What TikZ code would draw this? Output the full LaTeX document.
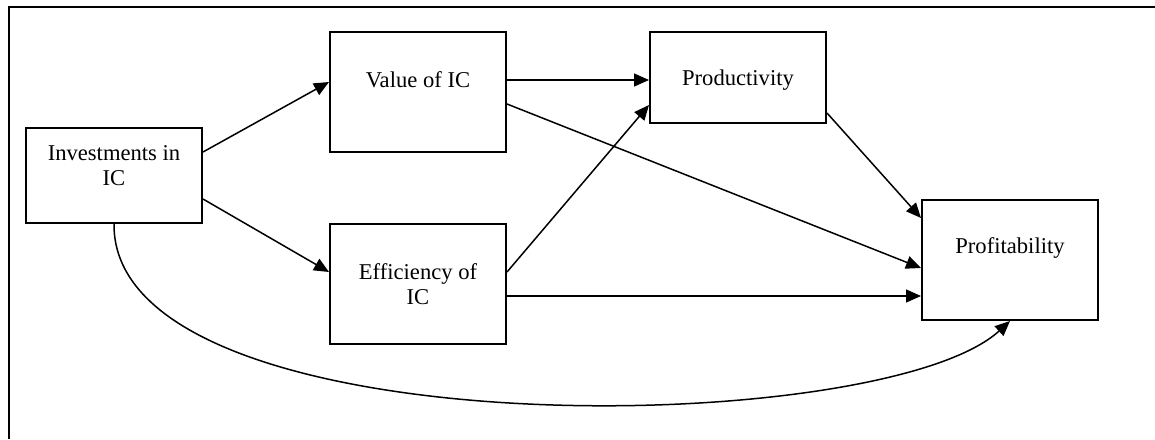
\documentclass[tikz,border=0pt]{standalone}
\usepackage{fontspec}
\setmainfont{Liberation Serif}
\usetikzlibrary{arrows.meta}
\newcommand{\boxfont}{\fontsize{11.3}{12.5}\selectfont}
\tikzset{
  box/.style={draw, line width=1pt, minimum width=88pt},
  txt/.style={align=center, font=\boxfont, inner sep=0pt},
  link/.style={line width=0.75pt, -{Triangle[length=7.5pt,width=6.5pt]}}
}

\begin{document}
\begin{tikzpicture}[x=0.5pt, y=-0.5pt]
    \useasboundingbox (0,0) rectangle (1155,439);
    % Cornice
    \draw[line width=1pt] (9,439) -- (9,6.5) -- (1155,6.5);

    % Riquadri
    \node[box, minimum height=47.5pt] (inv) at (114,175.5) {};
    \node[box, minimum height=60pt] (val) at (418,92) {};
    \node[box, minimum height=60pt] (eff) at (418,284) {};
    \node[box, minimum height=45.5pt] (prod) at (738,77.5) {};
    \node[box, minimum height=60pt] (profit) at (1010,260) {};

    % Testi
    \node[txt, yshift=5pt] (invlbl) at (inv) {Investments in\\IC};
    \node[txt, yshift=6pt] (vallbl) at (val) {Value of IC};
    \node[txt] (efflbl) at (eff) {Efficiency of\\IC};
    \node[txt, yshift=-1.25pt] (prodlbl) at (prod) {Productivity};
    \node[txt, yshift=6pt] (profitlbl) at (profit) {Profitability};

    % Frecce
    \draw[link] ([yshift=11.75pt]inv.east) -- ([yshift=5pt]val.west);
    \draw[link] ([yshift=-11.75pt]inv.east) -- ([yshift=6pt]eff.west);
    \draw[link] ([yshift=6pt]val.east) -- ([yshift=-1.25pt]prod.west);
    \draw[link] ([yshift=-6pt]val.east) -- ([yshift=-4pt]profit.west);
    \draw[link] ([yshift=6pt]eff.east) -- ([yshift=-13.75pt]prod.west);
    \draw[link] ([yshift=-6pt]eff.east) -- ([yshift=-18pt]profit.west);
    \draw[link] ([yshift=-17.75pt]prod.east) -- ([yshift=21pt]profit.west);
    \draw[link] (inv.south) .. controls (112,450) and (880,440) .. (profit.south);
\end{tikzpicture}
\end{document}
